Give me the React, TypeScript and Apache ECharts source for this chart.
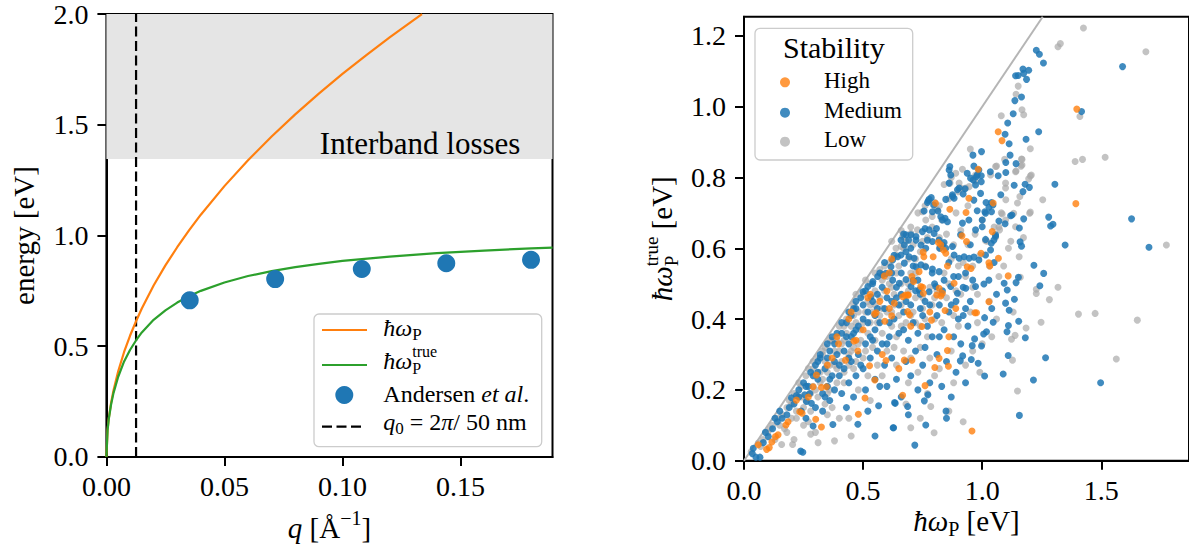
import React, { useEffect, useRef } from 'react';
import * as echarts from 'echarts';

const FONT = "'Liberation Serif', 'DejaVu Serif', serif";

// ---------- Left panel data ----------
const qP = [0, 0.0005, 0.001, 0.002, 0.003, 0.005, 0.0075, 0.01, 0.0126, 0.015, 0.02, 0.025, 0.03, 0.035, 0.04, 0.05, 0.06, 0.07, 0.08, 0.09, 0.1, 0.11, 0.12, 0.13, 0.1337];
const eP = [0, 0.122, 0.173, 0.245, 0.3, 0.387, 0.474, 0.547, 0.614, 0.67, 0.774, 0.865, 0.947, 1.023, 1.094, 1.223, 1.34, 1.447, 1.547, 1.641, 1.73, 1.814, 1.895, 1.972, 2.0];
const qT = [0, 0.0005, 0.001, 0.002, 0.003, 0.005, 0.0075, 0.01, 0.0126, 0.015, 0.02, 0.025, 0.03, 0.035, 0.04, 0.05, 0.06, 0.07, 0.08, 0.09, 0.1, 0.12, 0.14, 0.16, 0.18, 0.189];
const eT = [0, 0.121, 0.171, 0.238, 0.288, 0.362, 0.431, 0.483, 0.527, 0.562, 0.619, 0.662, 0.697, 0.726, 0.75, 0.788, 0.817, 0.839, 0.857, 0.872, 0.885, 0.905, 0.92, 0.932, 0.942, 0.945];
const andersenQ = [0.0353, 0.0715, 0.1082, 0.144, 0.1799];
const andersenE = [0.707, 0.803, 0.849, 0.875, 0.89];
const q0 = 0.01257;
const interbandMin = 1.345;
const leftXTicks = [0, 0.05, 0.1, 0.15];
const leftYTicks = [0, 0.5, 1, 1.5, 2];

// ---------- Right panel data ----------
const rightXTicks = [0, 0.5, 1, 1.5];
const rightYTicks = [0, 0.2, 0.4, 0.6, 0.8, 1.0, 1.2];
const diagLine = [[0, 0], [1.254, 1.254]];

const highStab = [
  [0.06, 0.045], [0.095, 0.032], [0.117, 0.053], [0.143, 0.073], [0.132, 0.068], [0.176, 0.101], [0.185, 0.11], [0.106, 0.037],
  [0.234, 0.138], [0.244, 0.134], [0.301, 0.117], [0.325, 0.095], [0.22, 0.171], [0.29, 0.209], [0.325, 0.207], [0.304, 0.242], [0.346, 0.209], [0.397, 0.33], [0.27, 0.18], [0.37, 0.29],
  [0.426, 0.284], [0.461, 0.338], [0.478, 0.31], [0.527, 0.268], [0.548, 0.414], [0.591, 0.394], [0.48, 0.131], [0.508, 0.177], [0.549, 0.228], [0.44, 0.4], [0.52, 0.46], [0.57, 0.45], [0.5, 0.37], [0.58, 0.3],
  [0.6, 0.479], [0.631, 0.445], [0.752, 0.589], [0.755, 0.576], [0.794, 0.576], [0.735, 0.534], [0.705, 0.52], [0.61, 0.531], [0.687, 0.468], [0.666, 0.463], [0.75, 0.49], [0.596, 0.283], [0.7, 0.38], [0.78, 0.42], [0.65, 0.26], [0.666, 0.185], [0.76, 0.212],
  [0.673, 0.284], [0.705, 0.284], [0.801, 0.263], [0.858, 0.267], [0.854, 0.311], [0.819, 0.289], [0.787, 0.397], [0.555, 0.418], [0.61, 0.43], [0.62, 0.409], [0.687, 0.421], [0.695, 0.412], [0.747, 0.379], [0.844, 0.424], [0.889, 0.43], [0.969, 0.418], [0.976, 0.418], [1.028, 0.449],
  [0.826, 0.465], [0.833, 0.473], [0.753, 0.473], [0.742, 0.492], [0.712, 0.506], [0.677, 0.468], [0.69, 0.468], [0.589, 0.522], [0.819, 0.487], [0.854, 0.55], [0.937, 0.548], [0.816, 0.616], [0.826, 0.61], [0.934, 0.619],
  [0.983, 0.823], [0.804, 0.727], [0.864, 0.71], [0.944, 0.741], [0.932, 0.701], [0.915, 0.635], [0.995, 0.586], [0.953, 0.543], [0.837, 0.595], [0.847, 0.586], [0.882, 0.501], [0.809, 0.468], [0.957, 0.084], [0.86, 0.35],
  [1.067, 0.929], [1.083, 0.904], [1.046, 0.728], [1.042, 0.647], [1.068, 0.572], [1.028, 0.559], [1.032, 0.55], [1.109, 0.522],
  [1.397, 0.993], [1.393, 0.726],
  [0.45, 0.42], [0.53, 0.47], [0.39, 0.35], [0.47, 0.34], [0.62, 0.57], [0.35, 0.27]
];

const mediumStab = [
  [0.035, 0.02], [0.05, 0.01], [0.067, 0.01], [0.039, 0.035], [0.081, 0.051], [0.102, 0.068], [0.12, 0.09], [0.14, 0.11], [0.16, 0.12], [0.18, 0.13], [0.09, 0.08], [0.13, 0.12], [0.15, 0.14], [0.19, 0.15], [0.238, 0.027], [0.247, 0.024],
  [0.199, 0.178], [0.22, 0.184], [0.255, 0.186], [0.276, 0.19], [0.262, 0.167], [0.283, 0.162], [0.29, 0.098], [0.373, 0.102], [0.21, 0.16], [0.23, 0.2], [0.25, 0.22], [0.28, 0.25], [0.3, 0.27], [0.32, 0.29], [0.27, 0.21], [0.31, 0.23], [0.34, 0.26], [0.36, 0.31], [0.33, 0.19], [0.35, 0.21], [0.38, 0.33], [0.39, 0.3], [0.37, 0.24], [0.24, 0.14], [0.3, 0.15], [0.36, 0.17], [0.26, 0.12], [0.33, 0.14], [0.39, 0.36], [0.31, 0.28],
  [0.478, 0.103], [0.55, 0.07], [0.565, 0.155], [0.632, 0.164], [0.626, 0.093], [0.41, 0.36], [0.43, 0.39], [0.45, 0.41], [0.47, 0.43], [0.42, 0.31], [0.44, 0.33], [0.46, 0.36], [0.48, 0.38], [0.5, 0.4], [0.52, 0.42], [0.54, 0.45], [0.56, 0.47], [0.42, 0.26], [0.45, 0.28], [0.48, 0.3], [0.51, 0.33], [0.53, 0.35], [0.55, 0.37], [0.57, 0.39], [0.59, 0.43], [0.44, 0.22], [0.47, 0.24], [0.5, 0.26], [0.53, 0.29], [0.56, 0.31], [0.58, 0.33], [0.41, 0.19], [0.46, 0.18], [0.51, 0.2], [0.55, 0.23], [0.59, 0.27], [0.43, 0.15], [0.52, 0.14], [0.57, 0.21], [0.499, 0.477], [0.52, 0.492], [0.541, 0.506], [0.561, 0.52], [0.533, 0.463], [0.582, 0.525], [0.596, 0.529], [0.47, 0.45],
  [0.624, 0.51], [0.652, 0.501], [0.68, 0.512], [0.701, 0.492], [0.735, 0.482], [0.777, 0.477], [0.624, 0.567], [0.645, 0.576], [0.659, 0.581], [0.673, 0.558], [0.693, 0.576], [0.714, 0.572], [0.722, 0.548], [0.743, 0.553], [0.763, 0.548], [0.791, 0.541], [0.68, 0.638], [0.691, 0.623], [0.722, 0.633], [0.749, 0.647], [0.76, 0.656], [0.777, 0.652], [0.798, 0.642], [0.701, 0.638], [0.722, 0.623], [0.659, 0.623], [0.673, 0.609], [0.743, 0.609], [0.77, 0.623], [0.791, 0.619], [0.763, 0.6], [0.774, 0.734], [0.786, 0.743], [0.796, 0.722], [0.756, 0.705], [0.791, 0.703], [0.777, 0.738], [0.77, 0.729], [0.617, 0.548], [0.7, 0.6], [0.63, 0.58],
  [0.62, 0.45], [0.66, 0.47], [0.7, 0.44], [0.74, 0.47], [0.63, 0.4], [0.67, 0.42], [0.71, 0.39], [0.75, 0.41], [0.78, 0.44], [0.61, 0.35], [0.65, 0.36], [0.69, 0.34], [0.73, 0.36], [0.77, 0.38], [0.62, 0.29], [0.68, 0.28], [0.72, 0.31], [0.76, 0.32], [0.79, 0.35], [0.64, 0.23], [0.7, 0.24], [0.75, 0.27], [0.66, 0.18], [0.73, 0.2], [0.78, 0.22], [0.69, 0.13], [0.687, 0.153], [0.635, 0.162], [0.772, 0.186], [0.757, 0.169], [0.763, 0.101], [0.628, 0.093], [0.717, 0.044],
  [0.814, 0.705], [0.826, 0.689], [0.844, 0.685], [0.854, 0.675], [0.875, 0.751], [0.882, 0.741], [0.928, 0.768], [0.92, 0.753], [0.965, 0.736], [0.979, 0.706], [0.861, 0.821], [0.868, 0.807], [0.861, 0.784], [0.896, 0.765], [0.903, 0.77], [0.864, 0.831], [0.951, 0.798], [0.937, 0.812], [0.965, 0.832], [0.986, 0.821], [0.996, 0.805], [0.972, 0.779], [0.996, 0.788], [0.993, 0.755], [0.875, 0.746], [0.847, 0.738], [0.833, 0.68], [0.917, 0.671], [0.944, 0.68], [0.972, 0.652], [0.909, 0.638], [0.833, 0.609], [0.822, 0.6], [0.847, 0.6], [0.875, 0.605], [0.808, 0.656], [0.819, 0.623], [0.84, 0.616], [0.882, 0.581], [0.903, 0.572], [0.924, 0.576], [0.945, 0.572], [0.965, 0.575], [0.986, 0.567], [0.819, 0.534], [0.805, 0.492], [0.833, 0.48], [0.868, 0.492], [0.896, 0.473], [0.931, 0.487], [0.972, 0.492], [0.961, 0.863], [0.997, 0.873], [0.979, 0.807], [0.962, 0.793], [0.975, 0.802],
  [0.82, 0.44], [0.86, 0.42], [0.89, 0.45], [0.92, 0.41], [0.95, 0.45], [0.84, 0.37], [0.88, 0.35], [0.91, 0.33], [0.94, 0.38], [0.918, 0.296], [0.908, 0.282], [0.954, 0.286], [0.983, 0.275], [0.968, 0.344], [0.958, 0.325], [0.997, 0.324], [0.85, 0.28], [0.89, 0.25], [0.83, 0.21], [0.87, 0.18], [0.93, 0.22], [0.85, 0.12], [0.848, 0.14], [0.81, 0.3], [0.9, 0.52], [0.93, 0.53],
  [1.227, 1.159], [1.24, 1.148], [1.257, 1.123], [1.171, 1.106], [1.195, 1.103], [1.174, 1.094], [1.14, 1.087], [1.151, 1.088], [1.186, 1.077], [1.165, 1.027], [1.137, 1.017], [1.13, 0.98], [1.107, 0.954], [1.096, 0.922], [1.113, 0.895], [1.237, 0.929], [1.184, 0.908], [1.117, 0.863], [1.099, 0.842], [1.142, 0.839], [1.034, 0.816], [1.067, 0.805], [1.099, 0.814], [1.305, 0.781], [1.134, 0.778], [1.18, 0.781], [1.198, 0.772], [1.171, 0.76], [1.078, 0.751], [1.039, 0.729], [1.016, 0.729], [1.039, 0.703], [1.011, 0.703], [1.119, 0.692], [1.174, 0.683], [1.279, 0.688], [1.297, 0.668], [1.287, 0.663], [1.156, 0.657], [1.096, 0.669], [1.056, 0.634], [1.159, 0.618], [1.165, 0.606], [1.038, 0.614], [1.217, 0.552], [1.258, 0.529], [1.152, 0.518], [1.142, 0.503], [1.242, 0.494], [1.092, 0.501], [1.105, 0.482], [1.135, 0.456], [1.098, 0.445], [1.113, 0.425], [1.153, 0.394], [1.11, 0.382], [1.104, 0.364], [1.181, 0.347], [1.046, 0.391], [1.01, 0.404], [1.018, 0.364], [1.006, 0.358], [1.109, 0.297], [1.266, 0.291], [1.01, 0.239], [1.088, 0.245], [1.215, 0.228], [1.156, 0.128], [1.028, 0.716], [1.014, 0.699], [1.0, 0.68], [1.0, 0.661], [1.014, 0.625], [1.045, 0.722], [1.014, 0.581], [1.035, 0.595], [1.056, 0.638], [1.049, 0.623], [1.007, 0.499], [1.028, 0.51], [1.07, 0.677], [1.125, 0.694], [1.05, 0.56], [1.06, 0.47], [1.04, 0.43],
  [1.417, 0.986], [1.589, 1.113], [1.627, 0.683], [1.348, 0.609], [1.7, 0.603], [1.497, 0.22],
  [0.32, 0.3], [0.35, 0.33], [0.37, 0.35], [0.41, 0.39], [0.44, 0.42], [0.46, 0.43], [0.49, 0.46], [0.51, 0.48], [0.54, 0.5], [0.57, 0.53], [0.59, 0.56], [0.43, 0.35], [0.47, 0.37], [0.52, 0.39], [0.56, 0.43], [0.6, 0.46], [0.64, 0.49], [0.66, 0.53], [0.68, 0.59], [0.71, 0.55], [0.73, 0.51], [0.61, 0.39], [0.65, 0.44], [0.4, 0.27], [0.45, 0.35], [0.5, 0.44], [0.55, 0.41], [0.58, 0.49], [0.62, 0.53], [0.67, 0.64], [0.23, 0.18], [0.26, 0.21], [0.29, 0.24], [0.31, 0.25], [0.35, 0.29], [0.38, 0.28],
  [0.64, 0.46], [0.68, 0.45], [0.72, 0.48], [0.76, 0.45], [0.8, 0.5], [0.84, 0.51], [0.88, 0.52], [0.92, 0.49], [0.96, 0.51], [0.67, 0.37], [0.74, 0.43], [0.81, 0.41], [0.87, 0.44], [0.93, 0.43], [0.6, 0.33], [0.36, 0.23], [0.4, 0.24], [0.44, 0.29], [0.49, 0.27], [0.54, 0.34], [0.34, 0.18], [0.38, 0.2], [0.6, 0.21], [0.82, 0.35], [0.9, 0.4], [0.95, 0.61], [0.86, 0.56], [0.79, 0.53], [0.71, 0.51]
];

const lowStab = [
  [0.158, 0.046], [0.204, 0.046], [0.28, 0.075], [0.311, 0.051], [0.38, 0.056], [0.11, 0.09], [0.06, 0.05], [0.2, 0.12], [0.17, 0.09], [0.13, 0.06], [0.22, 0.14], [0.15, 0.1], [0.12, 0.1], [0.16, 0.13], [0.08, 0.06], [0.18, 0.08], [0.21, 0.06], [0.03, 0.025], [0.07, 0.04],
  [0.19, 0.17], [0.21, 0.19], [0.23, 0.22], [0.24, 0.21], [0.26, 0.24], [0.26, 0.17], [0.28, 0.14], [0.29, 0.28], [0.3, 0.2], [0.32, 0.22], [0.33, 0.31], [0.35, 0.25], [0.36, 0.2], [0.29, 0.26], [0.33, 0.3], [0.36, 0.34], [0.37, 0.34], [0.38, 0.27], [0.34, 0.16], [0.27, 0.11], [0.39, 0.22], [0.31, 0.18], [0.25, 0.1], [0.35, 0.13], [0.22, 0.12], [0.4, 0.38], [0.25, 0.15], [0.28, 0.19], [0.32, 0.25], [0.34, 0.28], [0.38, 0.31], [0.37, 0.15], [0.4, 0.12], [0.3, 0.08],
  [0.41, 0.33], [0.43, 0.36], [0.45, 0.31], [0.47, 0.39], [0.49, 0.34], [0.51, 0.42], [0.53, 0.39], [0.55, 0.44], [0.57, 0.41], [0.59, 0.48], [0.42, 0.22], [0.46, 0.26], [0.5, 0.29], [0.54, 0.32], [0.58, 0.36], [0.44, 0.12], [0.48, 0.2], [0.52, 0.24], [0.56, 0.27], [0.6, 0.31], [0.43, 0.4], [0.46, 0.44], [0.47, 0.47], [0.5, 0.47], [0.51, 0.51], [0.53, 0.5], [0.55, 0.53], [0.57, 0.54], [0.59, 0.55], [0.53, 0.17], [0.46, 0.41], [0.52, 0.36], [0.56, 0.39], [0.41, 0.28], [0.58, 0.24], [0.42, 0.34], [0.44, 0.27], [0.48, 0.33], [0.45, 0.07], [0.6, 0.42],
  [0.61, 0.56], [0.64, 0.53], [0.67, 0.6], [0.69, 0.57], [0.72, 0.53], [0.74, 0.59], [0.77, 0.63], [0.79, 0.66], [0.63, 0.47], [0.66, 0.44], [0.69, 0.48], [0.72, 0.46], [0.75, 0.43], [0.78, 0.49], [0.8, 0.46], [0.62, 0.38], [0.65, 0.41], [0.68, 0.39], [0.71, 0.42], [0.74, 0.38], [0.77, 0.35], [0.8, 0.4], [0.63, 0.32], [0.67, 0.31], [0.7, 0.29], [0.74, 0.32], [0.78, 0.29], [0.64, 0.27], [0.69, 0.22], [0.73, 0.25], [0.77, 0.19], [0.68, 0.16], [0.74, 0.12], [0.8, 0.24], [0.66, 0.65], [0.7, 0.66], [0.73, 0.7], [0.76, 0.72], [0.62, 0.62], [0.749, 0.703], [0.763, 0.68], [0.728, 0.652], [0.701, 0.642], [0.666, 0.633], [0.638, 0.6], [0.659, 0.605], [0.7, 0.093], [0.798, 0.079], [0.784, 0.153], [0.63, 0.44], [0.66, 0.5], [0.7, 0.53], [0.72, 0.57], [0.75, 0.62],
  [0.81, 0.71], [0.83, 0.68], [0.86, 0.74], [0.89, 0.7], [0.91, 0.77], [0.94, 0.72], [0.97, 0.79], [0.82, 0.6], [0.85, 0.64], [0.88, 0.61], [0.91, 0.65], [0.94, 0.61], [0.97, 0.64], [1.0, 0.68], [0.84, 0.53], [0.87, 0.57], [0.9, 0.55], [0.93, 0.52], [0.96, 0.55], [0.99, 0.58], [0.81, 0.48], [0.85, 0.46], [0.88, 0.41], [0.91, 0.47], [0.95, 0.42], [0.98, 0.47], [0.83, 0.39], [0.87, 0.31], [0.9, 0.38], [0.96, 0.31], [0.82, 0.26], [0.88, 0.22], [0.93, 0.27], [0.86, 0.14], [0.92, 0.11], [0.98, 0.39], [0.903, 0.784], [0.889, 0.812], [0.917, 0.823], [0.945, 0.774], [0.972, 0.807], [0.865, 0.784], [0.8, 0.73], [0.82, 0.72], [0.9, 0.76], [0.93, 0.77], [0.84, 0.78], [0.87, 0.8], [0.95, 0.88], [0.79, 0.69],
  [1.151, 1.058], [1.142, 1.035], [1.167, 0.991], [1.174, 0.977], [1.08, 0.974], [1.202, 0.881], [1.094, 0.851], [1.165, 0.852], [1.163, 0.832], [1.06, 0.832], [1.142, 0.818], [1.206, 0.807], [1.195, 0.796], [1.254, 0.737], [1.099, 0.737], [1.148, 0.728], [1.158, 0.746], [1.199, 0.699], [1.08, 0.7], [1.07, 0.66], [1.12, 0.62], [1.173, 0.63], [1.155, 0.576], [1.16, 0.518], [1.318, 0.49], [1.227, 0.484], [1.227, 0.472], [1.282, 0.455], [1.13, 0.42], [1.247, 0.391], [1.184, 0.375], [1.138, 0.354], [1.123, 0.343], [1.06, 0.4], [1.04, 0.35], [1.0, 0.33], [1.127, 0.284], [1.148, 0.197], [1.03, 0.55], [1.09, 0.55], [1.02, 0.62], [1.05, 0.66], [1.03, 0.45], [1.07, 0.52], [1.11, 0.6], [0.99, 0.25], [1.035, 0.807], [1.056, 0.831], [1.098, 0.784], [1.098, 0.77], [1.14, 0.816], [1.167, 0.835], [1.202, 0.804], [1.167, 0.851], [1.202, 0.702], [1.132, 0.699], [1.084, 0.697], [1.098, 0.68], [1.073, 0.652], [1.14, 0.661], [1.014, 0.621], [1.056, 0.631],
  [1.425, 1.222], [1.328, 1.178], [1.318, 1.169], [1.687, 1.155], [1.41, 0.972], [1.516, 0.857], [1.39, 0.845], [1.421, 0.851], [1.773, 0.609], [1.404, 0.414], [1.474, 0.416], [1.651, 0.397], [1.563, 0.287],
  [0.27, 0.26], [0.31, 0.29], [0.34, 0.32], [0.39, 0.34], [0.42, 0.38], [0.45, 0.38], [0.48, 0.42], [0.52, 0.45], [0.55, 0.48], [0.58, 0.51], [0.61, 0.5], [0.64, 0.58], [0.68, 0.62], [0.71, 0.61], [0.44, 0.3], [0.49, 0.37], [0.54, 0.42], [0.57, 0.46], [0.62, 0.49], [0.65, 0.55], [0.36, 0.27], [0.4, 0.31], [0.33, 0.23], [0.29, 0.21], [0.24, 0.18], [0.2, 0.16], [0.14, 0.12], [0.1, 0.08], [0.18, 0.15], [0.5, 0.39], [0.46, 0.32], [0.53, 0.44], [0.6, 0.52], [0.69, 0.5], [0.76, 0.55], [0.82, 0.63],
  [0.62, 0.42], [0.66, 0.38], [0.7, 0.41], [0.75, 0.46], [0.79, 0.44], [0.83, 0.47], [0.86, 0.5], [0.89, 0.48], [0.92, 0.56], [0.96, 0.49], [0.42, 0.25], [0.47, 0.28], [0.51, 0.31], [0.55, 0.34], [0.39, 0.26], [0.35, 0.19], [0.58, 0.43], [0.64, 0.35], [0.72, 0.39], [0.76, 0.4]
];

const C_ORANGE = '#ff7f0e';
const C_GREEN = '#2ca02c';
const C_BLUE = '#1f77b4';
const C_HIGH = 'rgba(255,127,14,0.8)';
const C_MED = 'rgba(31,119,180,0.85)';
const C_LOW = 'rgba(170,170,170,0.7)';

type Part = { t: string; s: number; it?: boolean; dy?: number; stack?: boolean };
const BASE = 0.32;

let measureCtx: CanvasRenderingContext2D | null = null;
function measure(t: string, font: string) {
  if (!measureCtx) measureCtx = document.createElement('canvas').getContext('2d');
  measureCtx!.font = font;
  return measureCtx!.measureText(t).width;
}

function mathGroup(parts: Part[], x: number, y: number, anchor: 'left' | 'center' | 'right', rotation = 0) {
  const children: any[] = [];
  let cx = 0;
  let lastStart = 0;
  for (const p of parts) {
    const font = `${p.it ? 'italic ' : ''}${p.s}px ${FONT}`;
    const w = measure(p.t, font);
    const start = p.stack ? lastStart : cx;
    if (!p.stack) lastStart = start;
    children.push({
      type: 'text', x: start, y: (p.dy || 0) - BASE * p.s, silent: true, z: 101,
      style: { text: p.t, font, fill: '#000', align: 'left', verticalAlign: 'middle' }
    });
    cx = Math.max(cx, start + w);
  }
  const off = anchor === 'left' ? 0 : anchor === 'center' ? -cx / 2 : -cx;
  children.forEach((c) => { c.x += off; });
  return { type: 'group', x, y, rotation, z: 101, children };
}

const axisCommon = {
  axisLine: { show: true, onZero: false, lineStyle: { color: '#000', width: 2 } },
  splitLine: { show: false },
};

export default function App() {
  const ref = useRef<HTMLDivElement>(null);
  useEffect(() => {
    if (!ref.current) return;
    const chart = echarts.init(ref.current, null, { renderer: 'svg' });

    const lgX = 322, lgX2 = 367, lgText = 383.3;
    const graphic: any[] = [
      { type: 'text', z: 101, x: 520.4, y: 153.8 - BASE * 31, silent: true,
        style: { text: 'Interband losses', font: `31px ${FONT}`, fill: '#000', align: 'right', verticalAlign: 'middle' } },
      mathGroup([{ t: 'energy [eV]', s: 29 }], 33, 235.5, 'center', Math.PI / 2),
      mathGroup([{ t: 'q', s: 29, it: true }, { t: ' [Å', s: 29 }, { t: '−1', s: 20, dy: -13 }, { t: ']', s: 29 }], 329.5, 537, 'center'),
      mathGroup([{ t: 'ħω', s: 29, it: true }, { t: 'P', s: 20, dy: 5 }, { t: ' [eV]', s: 29 }], 966.5, 530, 'center'),
      mathGroup([{ t: 'ħω', s: 29, it: true }, { t: 'P', s: 19, dy: 7 }, { t: 'true', s: 19, dy: -13, stack: true }, { t: ' [eV]', s: 29 }], 671, 238.7, 'center', Math.PI / 2),
      // left legend
      { type: 'rect', z: 99, shape: { x: 314, y: 314, width: 227.7, height: 132.7, r: 5 },
        style: { fill: 'rgba(255,255,255,0.8)', stroke: '#cccccc', lineWidth: 1.3 } },
      { type: 'line', z: 100, shape: { x1: lgX, y1: 330, x2: lgX2, y2: 330 }, style: { stroke: C_ORANGE, lineWidth: 2.2 } },
      { type: 'line', z: 100, shape: { x1: lgX, y1: 365, x2: lgX2, y2: 365 }, style: { stroke: C_GREEN, lineWidth: 2.2 } },
      { type: 'circle', z: 100, shape: { cx: 344.3, cy: 395, r: 9 }, style: { fill: C_BLUE } },
      { type: 'line', z: 100, shape: { x1: lgX, y1: 426.7, x2: 362, y2: 426.7 }, style: { stroke: '#000', lineWidth: 2.2, lineDash: [10, 4.5] } },
      mathGroup([{ t: 'ħω', s: 24, it: true }, { t: 'P', s: 17, dy: 4 }], lgText, 336, 'left'),
      mathGroup([{ t: 'ħω', s: 24, it: true }, { t: 'P', s: 16, dy: 5 }, { t: 'true', s: 16, dy: -12, stack: true }], lgText, 368.3, 'left'),
      mathGroup([{ t: 'Andersen ', s: 24 }, { t: 'et al', s: 24, it: true }, { t: '.', s: 24 }], lgText, 401.7, 'left'),
      mathGroup([{ t: 'q', s: 24, it: true }, { t: '0', s: 17, dy: 4 }, { t: ' = 2', s: 24 }, { t: 'π', s: 24, it: true }, { t: '/ 50 nm', s: 24 }], lgText, 430, 'left'),
      // right legend
      { type: 'rect', z: 99, shape: { x: 755, y: 28.3, width: 157.7, height: 131.7, r: 5 },
        style: { fill: 'rgba(255,255,255,0.8)', stroke: '#cccccc', lineWidth: 1.3 } },
      mathGroup([{ t: 'Stability', s: 30 }], 833.8, 57, 'center'),
      { type: 'circle', z: 100, shape: { cx: 785, cy: 82.3, r: 5 }, style: { fill: C_HIGH } },
      { type: 'circle', z: 100, shape: { cx: 785, cy: 112.7, r: 5 }, style: { fill: C_MED } },
      { type: 'circle', z: 100, shape: { cx: 785, cy: 141.7, r: 5 }, style: { fill: C_LOW } },
      mathGroup([{ t: 'High', s: 23 }], 824, 88.3, 'left'),
      mathGroup([{ t: 'Medium', s: 23 }], 824, 118.3, 'left'),
      mathGroup([{ t: 'Low', s: 23 }], 824, 147.3, 'left'),
    ];

    const labelStyle = { color: '#000', fontSize: 28, fontFamily: FONT };

    chart.setOption({
      animation: false,
      backgroundColor: '#fff',
      grid: [
        { left: 106.4, top: 14.1, width: 446.1, height: 442.8, show: true, borderColor: '#000', borderWidth: 2, backgroundColor: 'transparent' },
        { left: 744, top: 16.7, width: 447, height: 444, show: true, borderColor: '#000', borderWidth: 2, backgroundColor: 'transparent' },
      ],
      xAxis: [
        { type: 'value', gridIndex: 0, min: 0, max: 0.189, ...axisCommon,
          axisTick: { show: true, length: 9, lineStyle: { color: '#000', width: 2 }, customValues: leftXTicks },
          axisLabel: { ...labelStyle, margin: 16, customValues: leftXTicks, formatter: (v: number) => v.toFixed(2) } },
        { type: 'value', gridIndex: 1, min: 0, max: 1.868, ...axisCommon,
          axisTick: { show: true, length: 9, lineStyle: { color: '#000', width: 2 }, customValues: rightXTicks },
          axisLabel: { ...labelStyle, margin: 16, customValues: rightXTicks, formatter: (v: number) => v.toFixed(1) } },
      ],
      yAxis: [
        { type: 'value', gridIndex: 0, min: 0, max: 2, ...axisCommon,
          axisTick: { show: true, length: 9, lineStyle: { color: '#000', width: 2 }, customValues: leftYTicks },
          axisLabel: { ...labelStyle, margin: 18, customValues: leftYTicks, formatter: (v: number) => v.toFixed(1) } },
        { type: 'value', gridIndex: 1, min: 0, max: 1.254, ...axisCommon,
          axisTick: { show: true, length: 9, lineStyle: { color: '#000', width: 2 }, customValues: rightYTicks },
          axisLabel: { ...labelStyle, margin: 18, customValues: rightYTicks, formatter: (v: number) => v.toFixed(1) } },
      ],
      series: [
        { name: 'band', type: 'line', xAxisIndex: 0, yAxisIndex: 0, data: [], z: 1, silent: true,
          markArea: { silent: true, itemStyle: { color: '#e5e5e5' }, data: [[{ yAxis: interbandMin }, { yAxis: 2 }]] } },
        { name: 'q0', type: 'line', xAxisIndex: 0, yAxisIndex: 0, data: [[q0, 0], [q0, 2]], symbol: 'none', z: 3,
          lineStyle: { color: '#000', width: 2.2, type: [10, 4.5] } },
        { name: 'ħωP', type: 'line', xAxisIndex: 0, yAxisIndex: 0, data: qP.map((q, i) => [q, eP[i]]), symbol: 'none', z: 4,
          lineStyle: { color: C_ORANGE, width: 2.2 } },
        { name: 'ħωP true', type: 'line', xAxisIndex: 0, yAxisIndex: 0, data: qT.map((q, i) => [q, eT[i]]), symbol: 'none', z: 4,
          lineStyle: { color: C_GREEN, width: 2.2 } },
        { name: 'Andersen et al.', type: 'scatter', xAxisIndex: 0, yAxisIndex: 0, data: andersenQ.map((q, i) => [q, andersenE[i]]),
          symbolSize: 18, z: 5, itemStyle: { color: C_BLUE, opacity: 1 } },
        { name: 'diag', type: 'line', xAxisIndex: 1, yAxisIndex: 1, data: diagLine, symbol: 'none', z: 2,
          lineStyle: { color: '#b5b5b5', width: 2 } },
        { name: 'Low', type: 'scatter', xAxisIndex: 1, yAxisIndex: 1, data: lowStab, symbolSize: 7, z: 3, itemStyle: { color: C_LOW, opacity: 1 } },
        { name: 'Medium', type: 'scatter', xAxisIndex: 1, yAxisIndex: 1, data: mediumStab, symbolSize: 7, z: 4, itemStyle: { color: C_MED, opacity: 1 } },
        { name: 'High', type: 'scatter', xAxisIndex: 1, yAxisIndex: 1, data: highStab, symbolSize: 7, z: 5, itemStyle: { color: C_HIGH, opacity: 1 } },
      ],
      graphic,
    });
    return () => chart.dispose();
  }, []);

  return <div ref={ref} style={{ position: 'fixed', left: 0, top: 0, width: 1189, height: 552, background: '#fff' }} />;
}
